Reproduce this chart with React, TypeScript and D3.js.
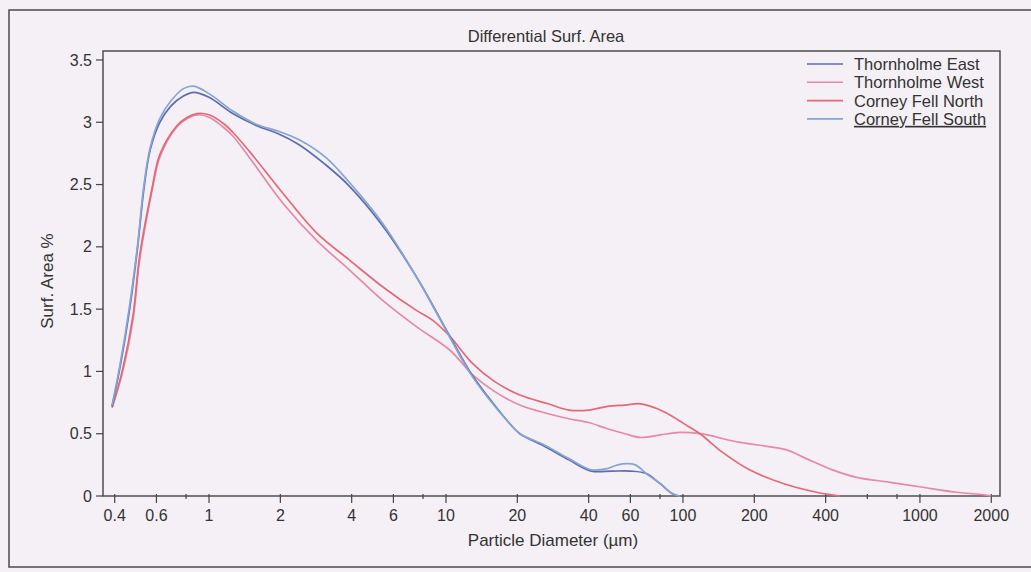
import React from "react";
import * as d3 from "d3";

const title = "Differential Surf. Area";
const xLabel = "Particle Diameter (µm)";
const yLabel = "Surf. Area %";

const seriesNames = ["Thornholme East", "Thornholme West", "Corney Fell North", "Corney Fell South"];
const seriesColors = ["#5d6cb0", "#e58aa6", "#e2697c", "#86a5d0"];

// [diameter µm, surface area %]
const thornholmeEast: [number, number][] = [
  [0.39, 0.72], [0.42, 1.02], [0.46, 1.47], [0.5, 2.0], [0.53, 2.45], [0.565, 2.78], [0.62, 3.0],
  [0.69, 3.13], [0.78, 3.21], [0.86, 3.24], [1.0, 3.2], [1.26, 3.07], [1.6, 2.97], [1.95, 2.91],
  [2.4, 2.82], [3.1, 2.66], [3.9, 2.49], [5.4, 2.17], [7.5, 1.76], [10.4, 1.28], [12.6, 1.0],
  [15, 0.8], [18.6, 0.58], [20.5, 0.5], [26, 0.4], [33, 0.29], [41, 0.2], [50, 0.2], [60, 0.2],
  [70, 0.18], [80, 0.1], [90, 0.02], [95, 0],
];
const thornholmeWest: [number, number][] = [
  [0.39, 0.71], [0.43, 0.98], [0.478, 1.42], [0.51, 1.9], [0.575, 2.45], [0.62, 2.72], [0.73, 2.96],
  [0.81, 3.03], [0.89, 3.06], [1.0, 3.04], [1.15, 2.96], [1.26, 2.89], [1.49, 2.71], [2.05, 2.35],
  [2.85, 2.05], [3.94, 1.81], [5.4, 1.57], [7.5, 1.36], [10.4, 1.17], [13, 0.97], [16, 0.84],
  [20.5, 0.73], [27, 0.66], [33, 0.62], [40, 0.59], [48, 0.54], [57, 0.5], [66, 0.47], [80, 0.49],
  [97, 0.51], [118, 0.5], [174, 0.43], [274, 0.37], [332, 0.3], [427, 0.21], [540, 0.15],
  [750, 0.11], [1030, 0.07], [1430, 0.03], [1850, 0.01], [2000, 0],
];
const corneyFellNorth: [number, number][] = [
  [0.39, 0.71], [0.43, 1.0], [0.478, 1.45], [0.51, 1.93], [0.575, 2.47], [0.62, 2.74], [0.73, 2.97],
  [0.81, 3.04], [0.89, 3.07], [1.0, 3.06], [1.15, 2.99], [1.26, 2.92], [1.49, 2.76], [2.05, 2.43],
  [2.85, 2.11], [3.94, 1.89], [5.4, 1.68], [7.5, 1.49], [8.8, 1.41], [10.4, 1.28], [13, 1.06],
  [16, 0.92], [20.5, 0.81], [27, 0.74], [33, 0.69], [40, 0.69], [48, 0.72], [57, 0.73], [66, 0.74],
  [78, 0.7], [90, 0.64], [105, 0.56], [118, 0.5], [147, 0.35], [191, 0.21], [265, 0.1], [366, 0.03],
  [460, 0],
];
const corneyFellSouth: [number, number][] = [
  [0.39, 0.73], [0.42, 1.04], [0.46, 1.5], [0.5, 2.02], [0.53, 2.48], [0.565, 2.8], [0.62, 3.03],
  [0.69, 3.17], [0.78, 3.27], [0.86, 3.29], [1.0, 3.23], [1.26, 3.09], [1.6, 2.98], [1.95, 2.93],
  [2.4, 2.86], [3.1, 2.72], [3.9, 2.52], [5.4, 2.19], [7.5, 1.76], [10.4, 1.27], [12.6, 0.99],
  [15, 0.79], [18.6, 0.58], [20.5, 0.5], [26, 0.41], [33, 0.3], [41, 0.21], [48, 0.22], [53, 0.25],
  [58, 0.26], [63, 0.25], [70, 0.18], [80, 0.1], [90, 0.02], [97, 0],
];
const seriesData = [thornholmeEast, thornholmeWest, corneyFellNorth, corneyFellSouth];

const xTickValues = [0.4, 0.6, 0.8, 1, 2, 4, 6, 8, 10, 20, 40, 60, 80, 100, 200, 400, 600, 800, 1000, 2000];
const xTickLabels = ["0.4", "0.6", "", "1", "2", "4", "6", "", "10", "20", "40", "60", "", "100", "200", "400", "", "", "1000", "2000"];
const yTickValues = [0, 0.5, 1, 1.5, 2, 2.5, 3, 3.5];
const yTickLabels = ["0", "0.5", "1", "1.5", "2", "2.5", "3", "3.5"];

const W = 1031;
const H = 572;
const left = 103, right = 1000, top = 51, bottom = 496;

export default function App() {
  const x = d3.scaleLog().domain([0.357, 2177]).range([left, right]);
  const y = d3.scaleLinear().domain([0, 3.572]).range([bottom, top]);
  const line = d3
    .line<[number, number]>()
    .x((d) => x(d[0]))
    .y((d) => Math.min(bottom, y(d[1])))
    .curve(d3.curveCatmullRom.alpha(0.5));

  const font = "Liberation Sans, Arial, sans-serif";
  const textColor = "#333";
  const drawOrder = [1, 2, 0, 3];

  return (
    <svg
      width={W}
      height={H}
      style={{ position: "absolute", left: 0, top: 0, background: "#f4f0f5" }}
      fontFamily={font}
    >
      <rect x={0} y={0} width={W} height={H} fill="#f4f0f5" />
      {/* outer frame */}
      <rect x={9} y={10} width={1030} height={557} fill="none" stroke="#555" strokeWidth={1.6} />
      {/* title */}
      <text x={546} y={42} textAnchor="middle" fontSize={16.5} fill={textColor}>
        {title}
      </text>
      {/* plot frame */}
      <rect x={left} y={top} width={right - left} height={bottom - top} fill="none" stroke="#444" strokeWidth={1.4} />

      {/* y ticks */}
      {yTickValues.map((v, i) => (
        <g key={"y" + i}>
          <line x1={left - 7} x2={left} y1={y(v)} y2={y(v)} stroke="#444" strokeWidth={1.2} />
          <text x={left - 11} y={y(v)} dy="0.35em" textAnchor="end" fontSize={16} fill={textColor}>
            {yTickLabels[i]}
          </text>
        </g>
      ))}
      {/* x ticks */}
      {xTickValues.map((v, i) => {
        const major = xTickLabels[i] !== "";
        return (
          <g key={"x" + i}>
            <line
              x1={x(v)}
              x2={x(v)}
              y1={bottom - 2}
              y2={bottom + (major ? 7 : 3)}
              stroke="#444"
              strokeWidth={1.2}
            />
            {major && (
              <text x={x(v)} y={521} textAnchor="middle" fontSize={16} fill={textColor}>
                {xTickLabels[i]}
              </text>
            )}
          </g>
        );
      })}
      <text x={553} y={546} textAnchor="middle" fontSize={17} fill={textColor}>
        {xLabel}
      </text>
      <text
        transform={`translate(53, 281) rotate(-90)`}
        textAnchor="middle"
        fontSize={17}
        fill={textColor}
      >
        {yLabel}
      </text>

      {/* series lines */}
      {drawOrder.map((i) => (
        <path
          key={seriesNames[i]}
          d={line(seriesData[i]) || ""}
          fill="none"
          stroke={seriesColors[i]}
          strokeWidth={1.7}
          strokeLinejoin="round"
        />
      ))}

      {/* legend */}
      {seriesNames.map((name, i) => {
        const cy = 64 + i * 18.3;
        return (
          <g key={"lg" + i}>
            <line x1={807} x2={843} y1={cy} y2={cy} stroke={seriesColors[i]} strokeWidth={1.6} />
            <text
              x={854}
              y={cy}
              dy="0.36em"
              fontSize={16.5}
              fill={textColor}
              textDecoration={i === seriesNames.length - 1 ? "underline" : undefined}
            >
              {name}
            </text>
          </g>
        );
      })}
    </svg>
  );
}
